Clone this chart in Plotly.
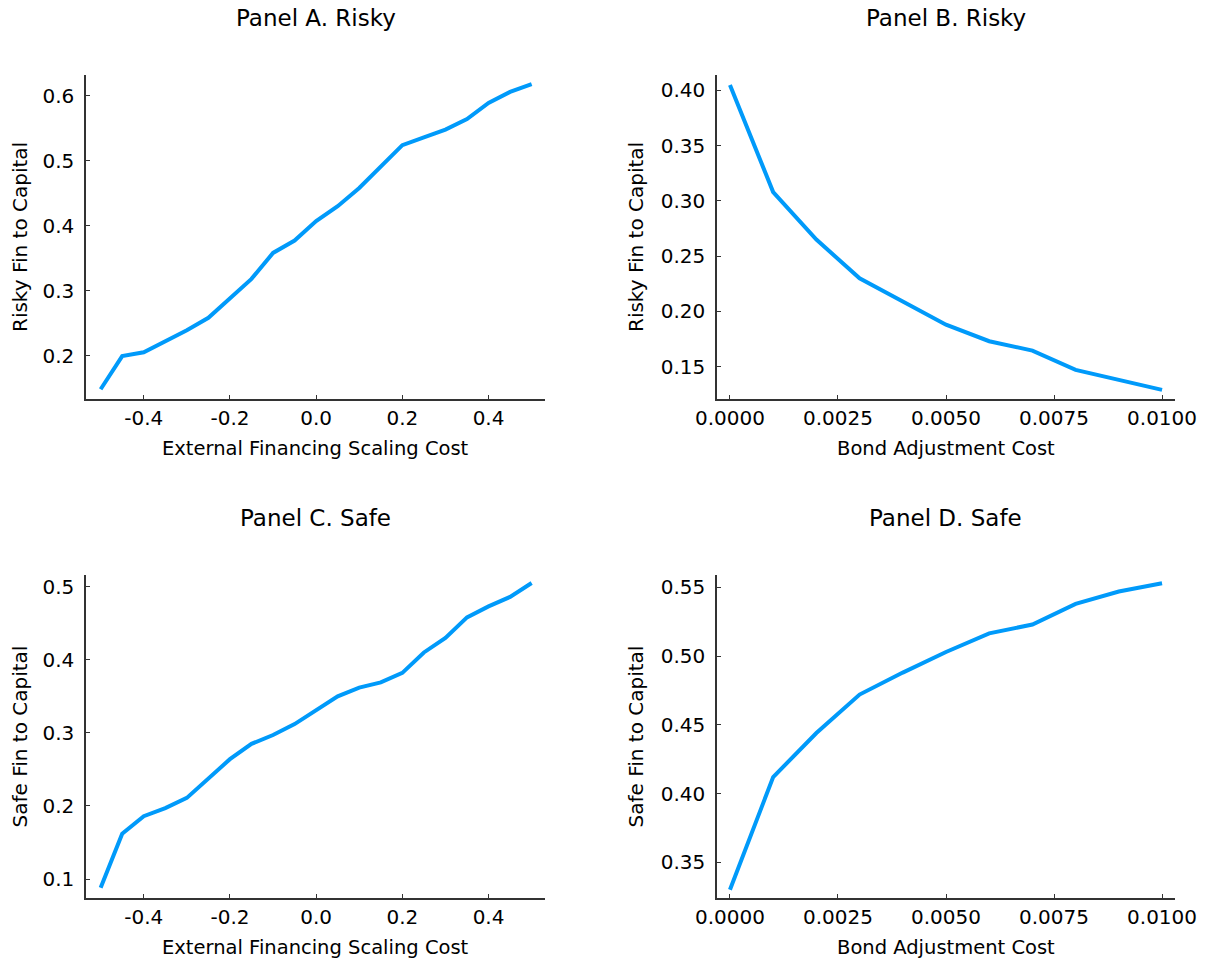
import plotly.graph_objects as go

# ---- data ----
scaling_cost = [-0.5, -0.45, -0.4, -0.35, -0.3, -0.25, -0.2, -0.15, -0.1, -0.05, 0.0,
                0.05, 0.1, 0.15, 0.2, 0.25, 0.3, 0.35, 0.4, 0.45, 0.5]
risky_scaling = [0.148, 0.199, 0.205, 0.222, 0.239, 0.258, 0.287, 0.318, 0.358, 0.377, 0.407,
                 0.430, 0.458, 0.490, 0.524, 0.536, 0.548, 0.564, 0.589, 0.606, 0.618]
safe_scaling = [0.088, 0.162, 0.186, 0.197, 0.211, 0.237, 0.264, 0.285, 0.297, 0.312, 0.331,
                0.350, 0.362, 0.369, 0.382, 0.410, 0.430, 0.458, 0.473, 0.486, 0.505]

bond_cost = [0.0, 0.001, 0.002, 0.003, 0.004, 0.005, 0.006, 0.007, 0.008, 0.009, 0.010]
risky_bond = [0.405, 0.308, 0.265, 0.230, 0.209, 0.188, 0.173, 0.1645, 0.147, 0.138, 0.129]
safe_bond = [0.330, 0.412, 0.444, 0.472, 0.488, 0.503, 0.5165, 0.523, 0.538, 0.547, 0.553]

titles = ["Panel A. Risky", "Panel B. Risky", "Panel C. Safe", "Panel D. Safe"]
xlabels = ["External Financing Scaling Cost", "Bond Adjustment Cost",
           "External Financing Scaling Cost", "Bond Adjustment Cost"]
ylabels = ["Risky Fin to Capital", "Risky Fin to Capital",
           "Safe Fin to Capital", "Safe Fin to Capital"]

scaling_ticks = [-0.4, -0.2, 0.0, 0.2, 0.4]
scaling_ticktext = ["-0.4", "-0.2", "0.0", "0.2", "0.4"]
bond_ticks = [0.0, 0.0025, 0.005, 0.0075, 0.01]
bond_ticktext = ["0.0000", "0.0025", "0.0050", "0.0075", "0.0100"]

ticks_a = [0.2, 0.3, 0.4, 0.5, 0.6]
ticks_b = [0.15, 0.20, 0.25, 0.30, 0.35, 0.40]
ticks_c = [0.1, 0.2, 0.3, 0.4, 0.5]
ticks_d = [0.35, 0.40, 0.45, 0.50, 0.55]

# ---- layout geometry ----
W, H = 1209, 963
col_px = [(86, 545), (717, 1175)]
row_px = [(75, 399), (575, 898)]
ylabel_x = [20, 636]
xranges = [[-0.534, 0.531], [-0.0003, 0.0103], [-0.534, 0.531], [-0.0003, 0.0103]]
yranges = [[0.133, 0.632], [0.1207, 0.414], [0.074, 0.516], [0.324, 0.559]]

FONT = "DejaVu Sans"
COLOR = "#009AFA"
AXCOL = "#333333"

panels = [
    (scaling_cost, risky_scaling, scaling_ticks, scaling_ticktext, ticks_a, ".1f"),
    (bond_cost, risky_bond, bond_ticks, bond_ticktext, ticks_b, ".2f"),
    (scaling_cost, safe_scaling, scaling_ticks, scaling_ticktext, ticks_c, ".1f"),
    (bond_cost, safe_bond, bond_ticks, bond_ticktext, ticks_d, ".2f"),
]

fig = go.Figure()
annotations = []
for i, (xs, ys, xt, xtt, yt, yfmt) in enumerate(panels):
    r, c = divmod(i, 2)
    x0, x1 = col_px[c]
    y0, y1 = row_px[r]
    xd = [x0 / W, x1 / W]
    yd = [1 - y1 / H, 1 - y0 / H]
    sfx = "" if i == 0 else str(i + 1)
    fig.add_trace(go.Scatter(x=xs, y=ys, mode="lines",
                             line=dict(color=COLOR, width=4),
                             xaxis="x" + sfx, yaxis="y" + sfx, showlegend=False))
    common = dict(showline=True, linecolor=AXCOL, linewidth=1.5, mirror=False,
                  showgrid=False, zeroline=False, ticks="inside", ticklen=4,
                  tickcolor=AXCOL, tickwidth=1, automargin=False,
                  tickfont=dict(family=FONT, size=20, color="black"))
    fig.update_layout(**{
        "xaxis" + sfx: dict(domain=xd, range=xranges[i], anchor="y" + sfx,
                            tickvals=xt, ticktext=xtt, ticklabelstandoff=0, **common),
        "yaxis" + sfx: dict(domain=yd, range=yranges[i], anchor="x" + sfx,
                            tickvals=yt, tickformat=yfmt, ticklabelstandoff=6, **common),
    })
    cx = (x0 + x1) / 2 / W
    annotations.append(dict(text=titles[i], x=cx, y=1 - (y0 - 57) / H, xref="paper", yref="paper",
                            showarrow=False, xanchor="center", yanchor="middle",
                            font=dict(family=FONT, size=23, color="black")))
    annotations.append(dict(text=xlabels[i], x=cx, y=1 - (y1 + 49) / H, xref="paper", yref="paper",
                            showarrow=False, xanchor="center", yanchor="middle",
                            font=dict(family=FONT, size=19.5, color="black")))
    annotations.append(dict(text=ylabels[i], x=ylabel_x[c] / W, y=(yd[0] + yd[1]) / 2,
                            xref="paper", yref="paper", textangle=-90,
                            showarrow=False, xanchor="center", yanchor="middle",
                            font=dict(family=FONT, size=20, color="black")))

fig.update_layout(width=W, height=H, margin=dict(l=0, r=0, t=0, b=0),
                  template="none",
                  paper_bgcolor="white", plot_bgcolor="white",
                  annotations=annotations)
fig.write_html("out.html")
